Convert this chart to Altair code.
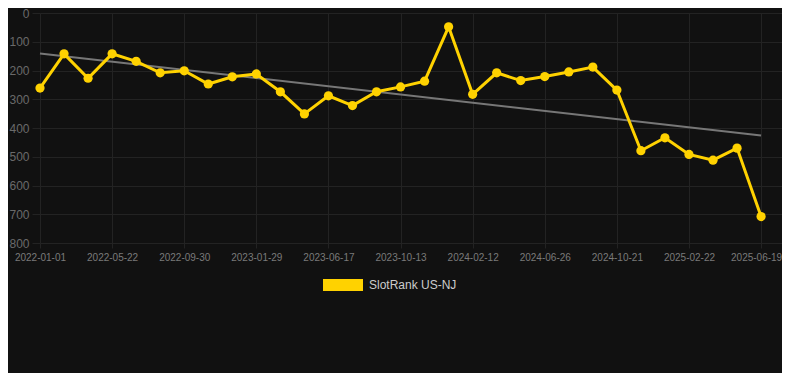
import altair as alt
import pandas as pd

# Data (rank, lower is better -> reversed axis)
ranks = [261, 142, 227, 142, 168, 208, 201, 247, 222, 212, 274, 351, 288, 322, 274,
         257, 237, 48, 283, 208, 235, 221, 205, 188, 268, 479, 434, 492, 512, 470, 708]
tick_labels = ["2022-01-01", "2022-05-22", "2022-09-30", "2023-01-29", "2023-06-17",
               "2023-10-13", "2024-02-12", "2024-06-26", "2024-10-21", "2025-02-22",
               "2025-06-19"]
series_name = "SlotRank US-NJ"
y_ticks = [0, 100, 200, 300, 400, 500, 600, 700, 800]

df = pd.DataFrame({
    "i": list(range(len(ranks))),
    "rank": ranks,
    "series": [series_name] * len(ranks),
})

BG = "#111111"
GRID = "#232323"
YELLOW = "#FFD200"

label_arr = "[" + ",".join("'" + t + "'" for t in tick_labels) + "]"
last_tick = 3 * (len(tick_labels) - 1)

x_enc = alt.X(
    "i:Q",
    scale=alt.Scale(domain=[0, 30.87], nice=False, zero=False),
    axis=alt.Axis(
        values=[3 * k for k in range(len(tick_labels))],
        labelExpr=label_arr + "[round(datum.value / 3)]",
        title=None,
        grid=True,
        gridColor=GRID,
        domainColor=GRID,
        tickColor=GRID,
        tickSize=5,
        labelPadding=4,
        labelFont="Arial",
        labelFontSize=10,
        labelColor="#7a7a7a",
        labelFlush=False,
        labelOffset={"condition": {"test": f"datum.value == {last_tick}", "value": -5}, "value": 0},
    ),
)
y_enc = alt.Y(
    "rank:Q",
    scale=alt.Scale(domain=[0, 800], reverse=True, nice=False),
    axis=alt.Axis(
        values=y_ticks,
        title=None,
        grid=True,
        gridColor=GRID,
        domainColor=GRID,
        tickColor=GRID,
        tickSize=8,
        labelPadding=3,
        labelFont="Arial",
        labelFontSize=12,
        labelColor="#6a6a6a",
    ),
)

base = alt.Chart(df)

trend = base.transform_regression("i", "rank").mark_line(
    color="#777777", strokeWidth=2
).encode(x=x_enc, y=y_enc)

line = base.mark_line(color=YELLOW, strokeWidth=3).encode(x=x_enc, y=y_enc)

points = base.mark_circle(size=85, opacity=1).encode(
    x=x_enc,
    y=y_enc,
    color=alt.Color(
        "series:N",
        scale=alt.Scale(range=[YELLOW]),
        legend=alt.Legend(
            title=None,
            orient="none",
            legendX=283,
            legendY=252,
            symbolType="M-1,-0.3H1V0.3H-1Z",
            symbolSize=1600,
            symbolStrokeWidth=0,
            symbolOpacity=1,
            labelFont="Arial",
            labelFontSize=12,
            labelColor="#cccccc",
            labelOffset=6,
            padding=0,
        ),
    ),
)

chart = alt.layer(trend, line, points).properties(
    width=742,
    height=230,
    background=BG,
    padding={"left": 32, "top": 5, "right": 0, "bottom": 130},
    autosize=alt.AutoSizeParams(type="none"),
).configure_view(strokeWidth=0)

chart.save("out.html", embed_options={"renderer": "svg", "actions": False})
